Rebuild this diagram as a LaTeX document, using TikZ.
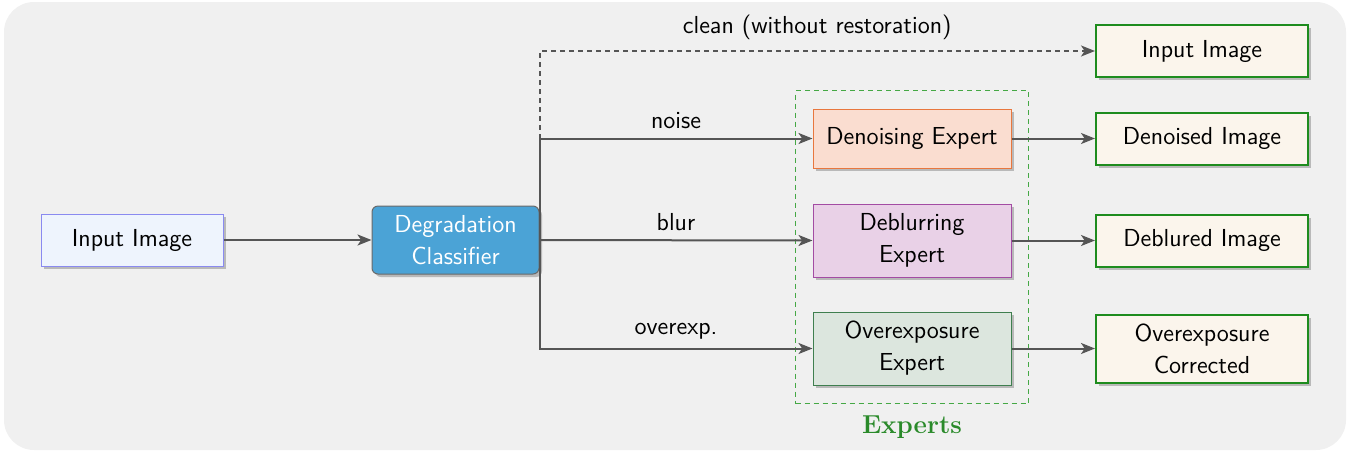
\documentclass[tikz,border=0pt]{standalone}
\usetikzlibrary{arrows.meta,shadows,fit}
\definecolor{bgc}{HTML}{F0F0F0}
\definecolor{arrc}{HTML}{555555}
\definecolor{inpfill}{HTML}{EEF4FD}
\definecolor{inpdraw}{HTML}{8A8AF0}
\definecolor{clsfill}{HTML}{4BA3D6}
\definecolor{clsdraw}{HTML}{6A6A6A}
\definecolor{denfill}{HTML}{FADDD0}
\definecolor{dendraw}{HTML}{E8773E}
\definecolor{deblfill}{HTML}{E9D1E7}
\definecolor{debldraw}{HTML}{A34CA3}
\definecolor{ovxfill}{HTML}{DCE6DE}
\definecolor{ovxdraw}{HTML}{3F7F4F}
\definecolor{outfill}{HTML}{FBF5EC}
\definecolor{outdraw}{HTML}{1E8C1E}
\definecolor{expgreen}{HTML}{45A845}
\definecolor{exptext}{HTML}{2A8A2A}
\tikzset{
  shad/.style={drop shadow={shadow xshift=1.5pt,shadow yshift=-1.5pt,fill=black!45,opacity=0.55}},
  box/.style={shad,draw,align=center,inner sep=2pt,line width=0.5pt},
  inbox/.style={box,fill=inpfill,draw=inpdraw,minimum width=91pt,minimum height=26pt},
  clsbox/.style={box,fill=clsfill,draw=clsdraw,rounded corners=3pt,text=white,minimum width=83.5pt,minimum height=34pt},
  expbox/.style={box,minimum width=99pt},
  outbox/.style={box,fill=outfill,draw=outdraw,line width=1pt,minimum width=106pt,minimum height=26pt},
  arr/.style={draw=arrc,line width=1pt,-{Stealth[length=7pt,width=5.5pt,inset=1.8pt]}},
  lbl/.style={text=black}
}
\begin{document}
\begin{tikzpicture}[x=0.5pt,y=-0.5pt,font=\sffamily\fontsize{12.3}{16}\selectfont]
\useasboundingbox (0,0) rectangle (1348,451);
\fill[bgc,rounded corners=15pt] (4,2) rectangle (1346,450);

\node[inbox] (inp) at (132,240) {Input Image};
\node[clsbox] (cls) at (455.5,240) {Degradation\\Classifier};

\node[expbox,fill=denfill,draw=dendraw,minimum height=29.5pt] (den) at (912,138.5) {Denoising Expert};
\node[expbox,fill=deblfill,draw=debldraw,minimum height=36.5pt] (debl) at (912,240.5) {Deblurring\\Expert};
\node[expbox,fill=ovxfill,draw=ovxdraw,minimum height=36.5pt] (ovx) at (912,348.5) {Overexposure\\Expert};

\node[outbox] (oinp) at (1202,51) {Input Image};
\node[outbox] (oden) at (1202,138.5) {Denoised Image};
\node[outbox] (odebl) at (1202,240.5) {Deblured Image};
\node[outbox,minimum height=34pt] (oovx) at (1202,348.5) {Overexposure\\Corrected};

\node[draw=expgreen,dash pattern=on 2.5pt off 2pt,line width=0.5pt,fit=(den)(ovx),inner xsep=8.5pt,inner ysep=9pt] (expg) {};
\node[text=exptext,font=\rmfamily\bfseries\fontsize{13}{15}\selectfont,anchor=north] (explbl) at ([yshift=-2.5pt]expg.south) {Experts};

\draw[arr] (inp.east) -- (cls.west);
\draw[arr] (cls.east) |- (den.west) node[lbl,pos=0.75,above=1pt] {noise};
\draw[arr] (cls.east) -- (debl.west) node[lbl,midway,above=1pt] {blur};
\draw[arr] (cls.east) |- (ovx.west) node[lbl,pos=0.75,above=1pt] {overexp.};
\draw[arr,dash pattern=on 2.5pt off 2pt] (cls.east |- den.west) |- (oinp.west) node[lbl,pos=0.75,above=2pt] {clean (without restoration)};

\draw[arr] (den.east) -- (oden.west);
\draw[arr] (debl.east) -- (odebl.west);
\draw[arr] (ovx.east) -- (oovx.west);
\end{tikzpicture}
\end{document}
